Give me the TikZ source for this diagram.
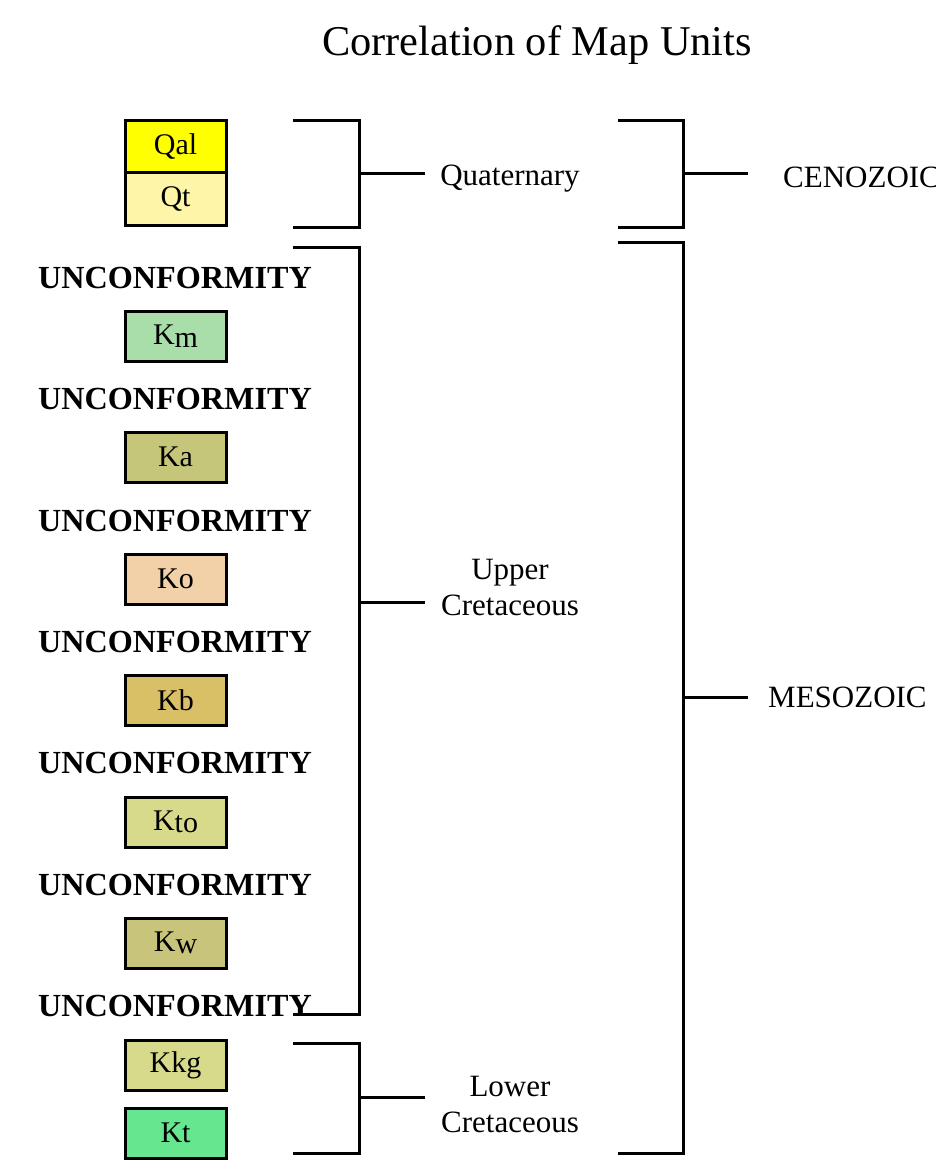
\documentclass[tikz,border=0pt]{standalone}
\usepackage{fontspec}
\setmainfont{Liberation Serif}
\definecolor{cQal}{HTML}{FFFF00}
\definecolor{cQt}{HTML}{FFF5A8}
\definecolor{cKm}{HTML}{A9DEAA}
\definecolor{cKa}{HTML}{C6C67A}
\definecolor{cKo}{HTML}{F2D0A8}
\definecolor{cKb}{HTML}{D9BF66}
\definecolor{cKto}{HTML}{D6DA8A}
\definecolor{cKw}{HTML}{C9C47C}
\definecolor{cKkg}{HTML}{D6DA8A}
\definecolor{cKt}{HTML}{66E68E}
\tikzset{
  unit/.style={draw=black, line width=3pt, minimum width=101pt, minimum height=50pt, inner sep=0pt, font=\fontsize{30}{34}\selectfont},
  unconf/.style={anchor=base, inner sep=0pt, font=\fontsize{32.2}{38}\selectfont\bfseries},
  lbl/.style={inner sep=0pt, font=\fontsize{31}{36}\selectfont, align=center},
  brk/.style={line width=3pt, line cap=butt, line join=miter},
}
\begin{document}
\begin{tikzpicture}[x=1pt,y=-1pt]
\useasboundingbox (0,0) rectangle (936,1161);
% title
\node[inner sep=0pt, font=\fontsize{42.4}{48}\selectfont] (title) at (537,45) {Correlation of Map Units};
% units
\node[unit, fill=cQal, minimum height=52pt] (qal) at (175.5,147) {Qal};
\node[unit, fill=cQt, minimum height=52pt] (qt) at (175.5,199) {Qt};
\node[unit, fill=cKm] (km) at (175.5,336) {K\raisebox{-3pt}{m}};
\node[unit, fill=cKa] (ka) at (175.5,457) {Ka};
\node[unit, fill=cKo] (ko) at (175.5,579) {Ko};
\node[unit, fill=cKb] (kb) at (175.5,700) {Kb};
\node[unit, fill=cKto] (kto) at (175.5,822) {K\raisebox{-2pt}{to}};
\node[unit, fill=cKw] (kw) at (175.5,943) {K\raisebox{-2pt}{w}};
\node[unit, fill=cKkg] (kkg) at (175.5,1065) {Kkg};
\node[unit, fill=cKt] (kt) at (175.5,1133) {Kt};
% unconformities
\node[unconf] (u1) at (175,288) {UNCONFORMITY};
\node[unconf] (u2) at (175,409) {UNCONFORMITY};
\node[unconf] (u3) at (175,531) {UNCONFORMITY};
\node[unconf] (u4) at (175,652) {UNCONFORMITY};
\node[unconf] (u5) at (175,773) {UNCONFORMITY};
\node[unconf] (u6) at (175,895) {UNCONFORMITY};
\node[unconf] (u7) at (175,1016) {UNCONFORMITY};
% labels
\node[lbl] (quat) at (510,179) {Quaternary};
\node[lbl] (upper) at (510,587) {Upper\\Cretaceous};
\node[lbl] (lower) at (510,1104) {Lower\\Cretaceous};
\node[lbl, anchor=west] (ceno) at (783,177) {CENOZOIC};
\node[lbl, anchor=west] (meso) at (768,697) {MESOZOIC};
% brackets (periods)
\draw[brk] (293,121) -- (359,121) -- (359,227) -- (293,227);
\draw[brk] (359,174) -- (425,174);
\draw[brk] (293,247) -- (359,247) -- (359,1014) -- (293,1014);
\draw[brk] (359,602) -- (425,602);
\draw[brk] (293,1043) -- (359,1043) -- (359,1153) -- (293,1153);
\draw[brk] (359,1097) -- (425,1097);
% brackets (eras)
\draw[brk] (618,121) -- (683,121) -- (683,227) -- (618,227);
\draw[brk] (683,174) -- (748,174);
\draw[brk] (618,242) -- (683,242) -- (683,1153) -- (618,1153);
\draw[brk] (683,697) -- (748,697);
\end{tikzpicture}
\end{document}
